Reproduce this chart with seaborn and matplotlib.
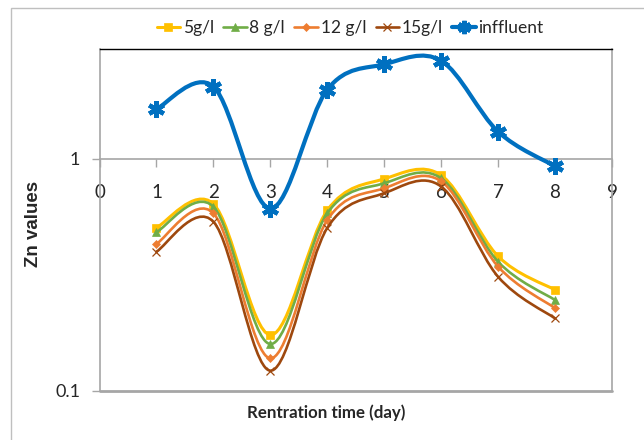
import numpy as np
import pandas as pd
import matplotlib
matplotlib.use("Agg")
import matplotlib.pyplot as plt
import seaborn as sns
from matplotlib.path import Path
from matplotlib.patches import PathPatch, Rectangle
from matplotlib.lines import Line2D
from matplotlib.ticker import NullLocator, FixedLocator

# ---- data ----
days = [1, 2, 3, 4, 5, 6, 7, 8]
series_names = ["5g/l", "8 g/l", "12 g/l", "15g/l", "inffluent"]
zn_5 = [0.505, 0.64, 0.174, 0.60, 0.82, 0.85, 0.38, 0.272]
zn_8 = [0.483, 0.622, 0.159, 0.583, 0.785, 0.825, 0.36, 0.246]
zn_12 = [0.43, 0.583, 0.138, 0.545, 0.747, 0.80, 0.343, 0.227]
zn_15 = [0.398, 0.536, 0.122, 0.504, 0.711, 0.76, 0.31, 0.205]
zn_influent = [1.64, 2.05, 0.61, 1.99, 2.56, 2.65, 1.31, 0.93]
x_ticks = [0, 1, 2, 3, 4, 5, 6, 7, 8, 9]
y_ticks = [0.1, 1]
y_tick_labels = ["0.1", "1"]

values = [zn_5, zn_8, zn_12, zn_15, zn_influent]
df = pd.DataFrame({
    "day": days * len(series_names),
    "zn": sum(values, []),
    "series": sum([[n] * len(days) for n in series_names], []),
})

colors = {"5g/l": "#FFC000", "8 g/l": "#70AD47", "12 g/l": "#ED7D31",
          "15g/l": "#9E480E", "inffluent": "#0070C0"}
line_w = {"5g/l": 2.2, "8 g/l": 1.9, "12 g/l": 1.9, "15g/l": 1.9, "inffluent": 3.0}
markers = {"5g/l": "s", "8 g/l": "^", "12 g/l": "D", "15g/l": "x",
           "inffluent": (6, 2, 0)}
msize = {"5g/l": 6, "8 g/l": 6, "12 g/l": 4.5, "15g/l": 6, "inffluent": 12}
mew = {"5g/l": 0.5, "8 g/l": 0.5, "12 g/l": 0.5, "15g/l": 0.9, "inffluent": 3.2}

sns.set_theme(style="white")
plt.rcParams["font.family"] = ["Lato", "DejaVu Sans"]

fig = plt.figure(figsize=(6.44, 4.40), dpi=100)
ax = fig.add_axes([99.5 / 644, 1 - 390.7 / 440, (612 - 99.5) / 644, (390.7 - 49.3) / 440])
ax.set_yscale("log")
ax.set_xlim(0, 9)
ax.set_ylim(0.1, 2.97)


def smooth_path(xs, ys):
    """Excel-style smoothed line: cubic Bezier segments through every point,
    control points taken from neighbours in log-y space."""
    lx = np.asarray(xs, float)
    ly = np.log10(np.asarray(ys, float))
    n = len(lx)
    verts = [(lx[0], ly[0])]
    codes = [Path.MOVETO]
    for i in range(n - 1):
        p0 = i - 1 if i > 0 else i
        p3 = i + 2 if i + 2 < n else i + 1
        c1 = (lx[i] + (lx[i + 1] - lx[p0]) / 6, ly[i] + (ly[i + 1] - ly[p0]) / 6)
        c2 = (lx[i + 1] - (lx[p3] - lx[i]) / 6, ly[i + 1] - (ly[p3] - ly[i]) / 6)
        verts += [c1, c2, (lx[i + 1], ly[i + 1])]
        codes += [Path.CURVE4] * 3
    verts = [(vx, 10 ** vy) for vx, vy in verts]
    return Path(verts, codes)


for k, name in enumerate(series_names):
    sub = df[df["series"] == name]
    patch = PathPatch(smooth_path(sub["day"], sub["zn"]), facecolor="none",
                      edgecolor=colors[name], lw=line_w[name], zorder=3 + k,
                      capstyle="round", joinstyle="round")
    ax.add_patch(patch)
    sns.lineplot(data=sub, x="day", y="zn", ax=ax, color=colors[name], lw=0,
                 marker=markers[name], markersize=msize[name],
                 markeredgewidth=mew[name], markeredgecolor=colors[name],
                 zorder=3.5 + k, legend=False)

# axes frame: x axis crosses at 1
grey = "#A6A6A6"
ax.spines["bottom"].set_position(("data", 1))
for s in ["bottom", "left", "right"]:
    ax.spines[s].set_color(grey)
    ax.spines[s].set_linewidth(1.2)
ax.spines["top"].set_color("black")
ax.spines["top"].set_linewidth(1.0)
ax.axhline(0.1, color=grey, lw=2.0, zorder=1, clip_on=False)

ax.xaxis.set_major_locator(FixedLocator(x_ticks))
ax.set_xticklabels([str(t) for t in x_ticks])
ax.set_yticks(y_ticks)
ax.set_yticklabels(y_tick_labels)
ax.yaxis.set_minor_locator(NullLocator())
ax.xaxis.set_minor_locator(NullLocator())
ax.tick_params(axis="x", which="major", direction="out", length=6, width=1,
               color=grey, pad=12, labelsize=13.5, bottom=True)
ax.tick_params(axis="y", which="major", direction="out", length=6, width=1,
               color=grey, pad=8, labelsize=13, left=True)
ax.set_xlabel("")
ax.set_ylabel("")
ax.grid(False)

fig.text(326 / 644, 1 - 413 / 440, "Rentration time (day)", ha="center", va="center",
         fontsize=12.2, fontweight="bold")
fig.text(33 / 644, 1 - 224 / 440, "Zn values", ha="center", va="center",
         rotation=90, fontsize=13.5, fontweight="bold",
         family=["Liberation Sans", "DejaVu Sans"])

handles = [Line2D([], [], color=colors[n], lw=line_w[n], marker=markers[n],
                  markersize=msize[n] * (0.8 if n == "inffluent" else 1),
                  markeredgewidth=mew[n], markeredgecolor=colors[n])
           for n in series_names]
fig.legend(handles, series_names, loc="center", bbox_to_anchor=(350 / 644, 1 - 28 / 440),
           ncol=5, frameon=False, fontsize=12.5, handlelength=1.35, handletextpad=0.15,
           columnspacing=0.55)

fig.add_artist(Rectangle((10.5 / 644, -0.1), 2, 1 - 8.3 / 440 + 0.1,
                         transform=fig.transFigure, fill=False,
                         edgecolor="#BFBFBF", lw=1.0))

fig.savefig("out.png", dpi=100)
